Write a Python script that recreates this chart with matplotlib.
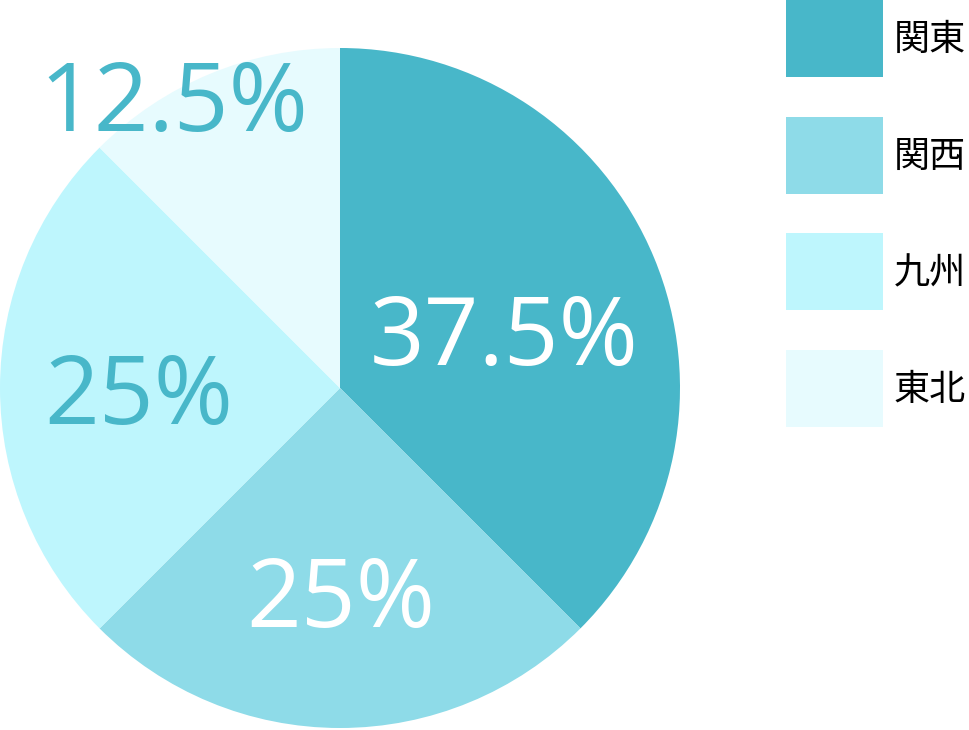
import matplotlib
matplotlib.use('Agg')
import matplotlib.pyplot as plt
from matplotlib.patches import Rectangle

regions = ['関東', '関西', '九州', '東北']
shares = [37.5, 25, 25, 12.5]
labels = ['37.5%', '25%', '25%', '12.5%']
colors = ['#48B7C9', '#8EDBE8', '#BEF6FD', '#E7FBFE']
label_colors = ['white', 'white', '#48B7C9', '#48B7C9']
# label baseline centres in pie-radius units
label_xy = [(0.482, 0.068), (0.003, -0.703), (-0.593, -0.106), (-0.488, 0.756)]

fig = plt.figure(figsize=(9.7, 7.3), dpi=100)

ax = fig.add_axes([0, 2 / 730, 680 / 970, 680 / 730])
ax.pie(shares, colors=colors, startangle=90, counterclock=False, radius=1,
       wedgeprops=dict(linewidth=0))
ax.set_xlim(-1, 1)
ax.set_ylim(-1, 1)
ax.axis('off')

for lab, col, (x, y) in zip(labels, label_colors, label_xy):
    ax.text(x, y, lab, ha='center', va='baseline', color=col, fontsize=69,
            family=['Open Sans', 'DejaVu Sans'])

# legend
lg = fig.add_axes([0, 0, 1, 1])
lg.set_xlim(0, 970)
lg.set_ylim(730, 0)
lg.axis('off')
lg.patch.set_alpha(0)
for i, (name, col) in enumerate(zip(regions, colors)):
    y0 = i * 116.7
    lg.add_patch(Rectangle((786, y0), 97, 77, color=col, linewidth=0))
    lg.text(894, y0 + 40, name, ha='left', va='center', fontsize=26,
            family=['Noto Sans CJK JP', 'DejaVu Sans'], color='black')

fig.savefig('out.png', dpi=100)
